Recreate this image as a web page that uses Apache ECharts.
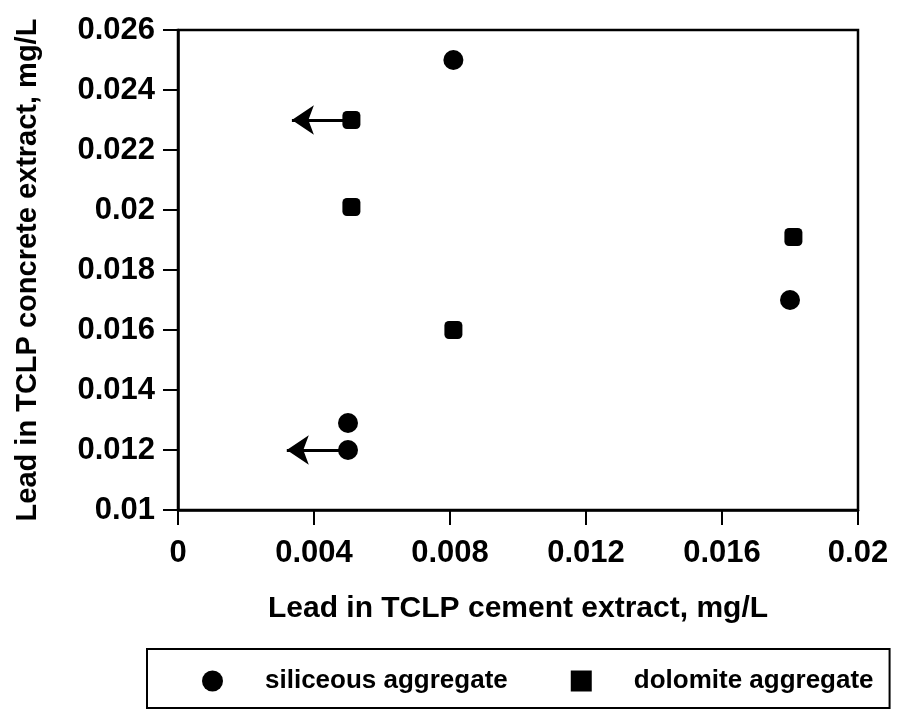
<!DOCTYPE html>
<html>
<head>
<meta charset="utf-8">
<script src="https://cdn.jsdelivr.net/npm/echarts@6/dist/echarts.min.js"></script>
<style>
html,body{margin:0;padding:0;background:#fff;}
#chart{width:898px;height:710px;}
</style>
</head>
<body>
<div id="chart"></div>
<script>
// Data
const siliceousX = [0.0081, 0.005, 0.005, 0.018];
const siliceousY = [0.025, 0.0129, 0.012, 0.017];
const dolomiteX = [0.0051, 0.0051, 0.0081, 0.0181];
const dolomiteY = [0.023, 0.0201, 0.016, 0.0191];
// "less than" arrows: [fromX, y, toX]
const siliceousArrows = [[0.005, 0.012, 0.0032]];
const dolomiteArrows = [[0.0051, 0.023, 0.00335]];
const xTicks = [0, 0.004, 0.008, 0.012, 0.016, 0.02];
const yTicks = [0.01, 0.012, 0.014, 0.016, 0.018, 0.02, 0.022, 0.024, 0.026];
const seriesNames = ['siliceous aggregate', 'dolomite aggregate'];
const xTitle = 'Lead in TCLP cement extract, mg/L';
const yTitle = 'Lead in TCLP concrete extract, mg/L';

const FONT = '"Liberation Sans", Arial, Helvetica, sans-serif';

function pairs(xs, ys) { return xs.map((x, i) => [x, ys[i]]); }
function arrowLines(arr) {
  return arr.map(a => [{ coord: [a[0], a[1]] }, { coord: [a[2], a[1]] }]);
}

const arrowMarkLine = (arr) => ({
  silent: true,
  symbol: ['none', 'arrow'],
  symbolSize: 22,
  label: { show: false },
  emphasis: { disabled: true },
  lineStyle: { color: '#000', width: 3, type: 'solid', opacity: 1 },
  itemStyle: { color: '#000' },
  data: arrowLines(arr)
});

const chart = echarts.init(document.getElementById('chart'), null, { renderer: 'canvas' });
chart.setOption({
  animation: false,
  backgroundColor: '#fff',
  grid: {
    left: 178, right: 40, top: 30, bottom: 200,
    show: true, borderColor: '#000', borderWidth: 2.5, backgroundColor: 'transparent'
  },
  xAxis: {
    type: 'value',
    min: xTicks[0], max: xTicks[xTicks.length - 1], interval: xTicks[1] - xTicks[0],
    name: xTitle, nameLocation: 'middle', nameGap: 84,
    nameTextStyle: { fontFamily: FONT, fontWeight: 'bold', fontSize: 30, color: '#000' },
    axisLine: { show: true, lineStyle: { color: '#000', width: 2.5 } },
    axisTick: { show: true, inside: false, length: 15, lineStyle: { color: '#000', width: 2 } },
    axisLabel: { margin: 28, fontFamily: FONT, fontWeight: 'bold', fontSize: 31, color: '#000' },
    splitLine: { show: false }
  },
  yAxis: {
    type: 'value',
    min: yTicks[0], max: yTicks[yTicks.length - 1], interval: yTicks[1] - yTicks[0],
    name: yTitle, nameLocation: 'middle', nameGap: 136,
    nameTextStyle: { fontFamily: FONT, fontWeight: 'bold', fontSize: 29, color: '#000' },
    axisLine: { show: true, lineStyle: { color: '#000', width: 2.5 } },
    axisTick: { show: true, inside: false, length: 15, lineStyle: { color: '#000', width: 2 } },
    axisLabel: { margin: 23, fontFamily: FONT, fontWeight: 'bold', fontSize: 31, color: '#000' },
    splitLine: { show: false }
  },
  legend: {
    left: 147, top: 649,
    width: 720,
    orient: 'horizontal',
    borderColor: '#000', borderWidth: 2,
    padding: [19, 16, 14, 55],
    itemWidth: 21, itemHeight: 21,
    itemGap: 63,
    textStyle: { fontFamily: FONT, fontWeight: 'bold', fontSize: 26, color: '#000', padding: [0, 0, 0, 37] },
    data: [
      { name: seriesNames[0], icon: 'circle', itemStyle: { color: '#000', opacity: 1 } },
      { name: seriesNames[1], icon: 'rect', itemStyle: { color: '#000', opacity: 1 } }
    ]
  },
  series: [
    {
      name: seriesNames[0],
      type: 'scatter',
      symbol: 'circle',
      symbolSize: 20,
      itemStyle: { color: '#000', opacity: 1 },
      data: pairs(siliceousX, siliceousY),
      markLine: arrowMarkLine(siliceousArrows),
      z: 3
    },
    {
      name: seriesNames[1],
      type: 'scatter',
      symbol: 'roundRect',
      symbolSize: 18,
      itemStyle: { color: '#000', opacity: 1 },
      data: pairs(dolomiteX, dolomiteY),
      markLine: arrowMarkLine(dolomiteArrows),
      z: 3
    }
  ]
});
</script>
</body>
</html>
